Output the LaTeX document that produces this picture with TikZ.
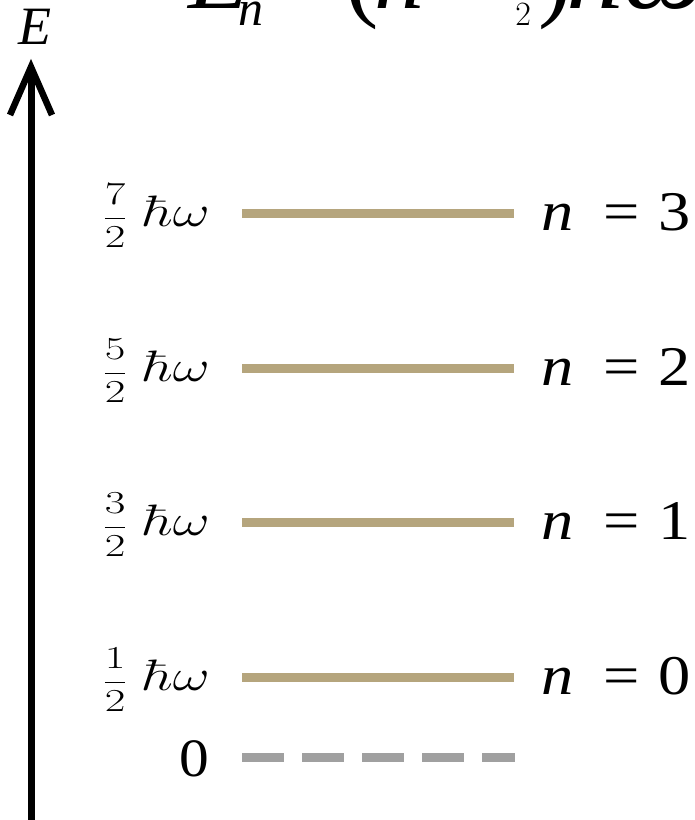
\RequirePackage{fix-cm}
\documentclass[tikz,border=0pt]{standalone}
\usepackage[no-math]{fontspec}
\setmainfont{Liberation Serif}
\usepackage{amsmath}
\usepackage{graphicx}
\definecolor{levelcol}{RGB}{181,165,125}
\definecolor{zerocol}{RGB}{160,160,160}
\newcommand{\wide}[2][1.3]{\scalebox{#1}[1]{#2}}
\begin{document}
\begin{tikzpicture}[x=1pt,y=-1pt,
  lvl/.style={line width=9pt, draw=levelcol},
  zerolvl/.style={line width=9pt, draw=zerocol, dash pattern=on 42pt off 18pt},
  nlab/.style={inner sep=0pt, anchor=base west, font=\fontsize{56}{56}\selectfont},
  elab/.style={inner sep=0pt, anchor=base east},
  big/.style={inner sep=0pt, anchor=base west, font=\fontsize{100}{100}\selectfont}]
\useasboundingbox (0,0) rectangle (695,820);
\clip (0,0) rectangle (695,820);
\fill[white] (0,0) rectangle (695,820);
% formula at top (cropped)
\node[big] (fE) at (188,8) {\textit{E}};
\node[inner sep=0pt, anchor=base west, font=\fontsize{50}{50}\selectfont] (fsub) at (238,25) {\textit{n}};
\node[big] (feq) at (278,8) {=};
\node[big] (flp) at (345,8) {(};
\node[big] (fn) at (374,8) {\textit{n}};
\node[big] (fplus) at (440,8) {+};
\node[inner sep=0pt, anchor=base west, font=\fontsize{34}{34}\selectfont] (ffrac) at (514,2) {$\displaystyle\frac{1}{2}$};
\node[big] (frp) at (538,8) {)};
\node[big] (fhw) at (566,8) {\wide[1.15]{\textit{ħω}}};
% axis
\coordinate (axbot) at (31,830);
\coordinate (axtop) at (31,70);
\coordinate (wl) at (10,115);
\coordinate (wr) at (52,115);
\coordinate (tip) at (31,67);
\draw[line width=7pt] (axbot) -- (axtop);
\draw[line width=6.5pt, line join=miter, miter limit=10] (wl) -- (tip) -- (wr);
\node[inner sep=0pt, anchor=base, font=\fontsize{54}{54}\selectfont\itshape] (Elab) at (35,44) {E};
% levels
\foreach \i/\y/\num in {0/677/1, 1/522/3, 2/368/5, 3/213/7}{
  \coordinate (la\i) at (242,\y);
  \coordinate (lb\i) at (514,\y);
  \draw[lvl] (la\i) -- (lb\i);
  \node[elab] (e\i) at (210,\y+13) {\wide[1.4]{\fontsize{32}{32}\selectfont$\displaystyle\frac{\num}{2}$}\hspace{16pt}\wide{\fontsize{44}{44}\selectfont$\hbar\omega$}};
  \node[nlab] (n\i) at (541,\y+17) {\wide[1.15]{\textit{n}\hspace{0.46em}=\hspace{0.3em}\i}};
}
% zero level
\coordinate (za) at (242,757);
\coordinate (zb) at (515,757);
\draw[zerolvl] (za) -- (zb);
\node[inner sep=0pt, anchor=base east, font=\fontsize{54}{54}\selectfont] (zlab) at (209,776) {\wide[1.1]{0}};
\end{tikzpicture}
\end{document}
